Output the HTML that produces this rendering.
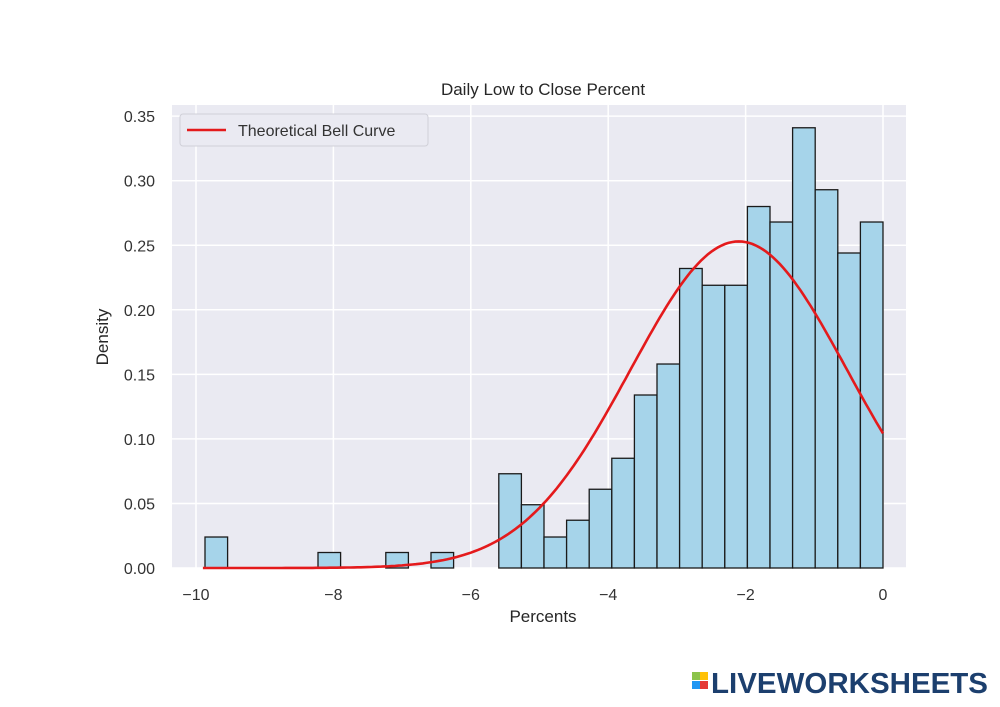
<!DOCTYPE html>
<html><head><meta charset="utf-8"><style>
body{margin:0;background:#fff;width:1000px;height:707px;overflow:hidden}
svg{display:block;font-family:"Liberation Sans",sans-serif}
</style></head><body>
<svg id="s" width="1000" height="707" xmlns="http://www.w3.org/2000/svg">
<rect x="172" y="105" width="734" height="463" fill="#eaeaf2"/>
<g id="grid" stroke="#fff" stroke-width="1.5"></g>
<g id="bars" fill="#a6d4ea" stroke="#1a1a1a" stroke-width="1.3"></g>
<path id="curve" fill="none" stroke="#e41a1c" stroke-width="2.6"/>
<g id="lab" fill="#333" font-size="16"></g>
<text x="543" y="95" text-anchor="middle" font-size="17" fill="#262626">Daily Low to Close Percent</text>
<text x="543" y="622" text-anchor="middle" font-size="17" fill="#262626">Percents</text>
<text transform="translate(108,337) rotate(-90)" text-anchor="middle" font-size="17" fill="#262626">Density</text>
<rect x="180" y="114" width="248" height="32" rx="3" fill="#eaeaf2" stroke="#d0d0d8"/>
<line x1="187" y1="130" x2="226" y2="130" stroke="#e41a1c" stroke-width="2.6"/>
<text x="238" y="136" font-size="16" fill="#333">Theoretical Bell Curve</text>
<rect x="692" y="672" width="8" height="8" fill="#8bc34a"/><rect x="700" y="672" width="8" height="8" fill="#ffc107"/>
<rect x="692" y="681" width="8" height="8" fill="#2196f3"/><rect x="700" y="681" width="8" height="8" fill="#e53935"/>
<text x="711" y="693" font-size="29" font-weight="bold" fill="#1c3f6e" textLength="277" lengthAdjust="spacingAndGlyphs">LIVEWORKSHEETS</text>
</svg>
<script>
var ns="http://www.w3.org/2000/svg";
function X(v){return 883+v*68.7}
function Y(v){return 568-v*1291}
function el(p,t,a,txt){var e=document.createElementNS(ns,t);for(var k in a)e.setAttribute(k,a[k]);if(txt!==undefined)e.textContent=txt;document.getElementById(p).appendChild(e);}
for(var v=-10;v<=0;v+=2){el('grid','line',{x1:X(v),x2:X(v),y1:105,y2:568});
el('lab','text',{x:X(v),y:600,'text-anchor':'middle'},(v<0?'\u2212':'')+Math.abs(v));}
for(var i=0;i<=7;i++){var val=i*0.05;el('grid','line',{x1:172,x2:906,y1:Y(val),y2:Y(val)});
el('lab','text',{x:155,y:Y(val)+6,'text-anchor':'end'},val.toFixed(2));}
var h={0:0.024,5:0.012,8:0.012,10:0.012,13:0.073,14:0.049,15:0.024,16:0.037,17:0.061,18:0.085,19:0.134,20:0.158,21:0.232,22:0.219,23:0.219,24:0.280,25:0.268,26:0.341,27:0.293,28:0.244,29:0.268};
var w=(883-205)/30;
for(var k in h){var x=205+w*k;el('bars','rect',{x:x,y:Y(h[k]),width:w,height:h[k]*1291});}
var d='',mu=-2.1,s=1.577;
for(var t=-9.9;t<=0.0001;t+=0.05){var p=Math.exp(-(t-mu)*(t-mu)/(2*s*s))/(s*2.5066);d+=(d?'L':'M')+X(t).toFixed(1)+','+Y(p).toFixed(1);}
document.getElementById('curve').setAttribute('d',d);
</script>
</body></html>
